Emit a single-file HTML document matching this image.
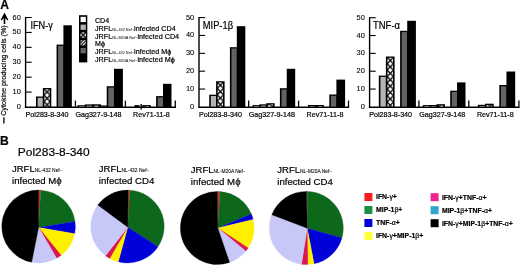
<!DOCTYPE html>
<html lang="en">
<head>
<meta charset="utf-8">
<title>Figure</title>
<style>
html,body{margin:0;padding:0;background:#fff;}
body{width:520px;height:267px;overflow:hidden;}
svg{display:block;}
svg text{font-family:"Liberation Sans",Arial,sans-serif;fill:#000;stroke:#000;stroke-width:0.2px;}
</style>
</head>
<body>
<svg width="520" height="267" viewBox="0 0 520 267">
<defs>
<pattern id="xh" width="6.4" height="6.4" patternUnits="userSpaceOnUse" patternTransform="translate(0.4 1.2)">
<rect width="6.4" height="6.4" fill="#fff"/>
<path d="M0 0L6.4 6.4M6.4 0L0 6.4M-1 5.4L1 7.4M5.4 -1L7.4 1M-1 1L1 -1M5.4 7.4L7.4 5.4" stroke="#000" stroke-width="1.25" fill="none"/>
</pattern>
<pattern id="dg" width="3" height="3" patternUnits="userSpaceOnUse">
<rect width="3" height="3" fill="#fff"/>
<path d="M-1 1L1 -1M0 3L3 0M2 4L4 2" stroke="#000" stroke-width="1.1"/>
</pattern>
</defs>
<rect width="520" height="267" fill="#fff"/>
<filter id="soft" x="0" y="0" width="520" height="267" filterUnits="userSpaceOnUse"><feGaussianBlur stdDeviation="0.38"/></filter>
<g filter="url(#soft)">

<text x="0.2" y="8.5" font-size="12.1" font-weight="bold">A</text>
<text x="0.1" y="144.8" font-size="12.1" font-weight="bold">B</text>
<path d="M4.5 12.6L8.4 19.9L7.4 20.3L5.3 18.3L5.3 23.9L3.7 23.9L3.7 18.3L1.6 20.3L0.6 19.9Z" fill="#000"/>
<text transform="translate(5.5 115.8) rotate(-90)" font-size="7.15">Cytokine producing cells (%)</text>
<line x1="3.9" y1="117.3" x2="3.9" y2="123.6" stroke="#000" stroke-width="1.3"/>
<line x1="25.6" y1="16.95" x2="25.6" y2="107.9" stroke="#000" stroke-width="1.4"/>
<line x1="24.90" y1="107.2" x2="175.95" y2="107.2" stroke="#000" stroke-width="1.4"/>
<text x="20.8" y="109.00" font-size="7.4" text-anchor="end" style="stroke-width:0.1px">0</text>
<line x1="25.6" y1="92.08" x2="31.70" y2="92.08" stroke="#000" stroke-width="1.1"/>
<text x="20.8" y="94.08" font-size="7.4" text-anchor="end" style="stroke-width:0.1px">10</text>
<line x1="25.6" y1="77.17" x2="31.70" y2="77.17" stroke="#000" stroke-width="1.1"/>
<text x="20.8" y="79.17" font-size="7.4" text-anchor="end" style="stroke-width:0.1px">20</text>
<line x1="25.6" y1="62.25" x2="31.70" y2="62.25" stroke="#000" stroke-width="1.1"/>
<text x="20.8" y="64.25" font-size="7.4" text-anchor="end" style="stroke-width:0.1px">30</text>
<line x1="25.6" y1="47.33" x2="31.70" y2="47.33" stroke="#000" stroke-width="1.1"/>
<text x="20.8" y="49.33" font-size="7.4" text-anchor="end" style="stroke-width:0.1px">40</text>
<line x1="25.6" y1="32.42" x2="31.70" y2="32.42" stroke="#000" stroke-width="1.1"/>
<text x="20.8" y="34.42" font-size="7.4" text-anchor="end" style="stroke-width:0.1px">50</text>
<line x1="25.6" y1="17.50" x2="31.70" y2="17.50" stroke="#000" stroke-width="1.1"/>
<text x="20.8" y="19.50" font-size="7.4" text-anchor="end" style="stroke-width:0.1px">60</text>
<line x1="75.40" y1="100.6" x2="75.40" y2="107.2" stroke="#000" stroke-width="1.3"/>
<line x1="125.40" y1="100.6" x2="125.40" y2="107.2" stroke="#000" stroke-width="1.3"/>
<line x1="175.30" y1="100.6" x2="175.30" y2="107.2" stroke="#000" stroke-width="1.3"/>
<text x="30.4" y="29" font-size="10.2" textLength="22.4" lengthAdjust="spacingAndGlyphs">IFN-γ</text>
<rect x="36.00" y="96.50" width="8.45" height="10.70" fill="#000"/>
<rect x="37.60" y="97.80" width="5.25" height="8.80" fill="#b2b2b2"/>
<rect x="42.85" y="88.00" width="8.45" height="19.20" fill="#000"/>
<pattern id="xh436" width="6.4" height="6.4" patternUnits="userSpaceOnUse" patternTransform="translate(43.87 88.80)"><rect width="6.4" height="6.4" fill="#fff"/><path d="M0 0L6.4 6.4M6.4 0L0 6.4" stroke="#000" stroke-width="1.35" fill="none"/></pattern>
<rect x="44.45" y="89.30" width="5.25" height="17.30" fill="url(#xh436)"/>
<rect x="56.55" y="44.60" width="8.45" height="62.60" fill="#000"/>
<rect x="58.15" y="45.90" width="5.25" height="60.70" fill="#646464"/>
<rect x="63.40" y="25.30" width="8.45" height="81.90" fill="#000"/>
<rect x="77.50" y="105.20" width="8.90" height="2.00" fill="#000"/>
<rect x="79.10" y="106.20" width="5.70" height="0.40" fill="#fff"/>
<rect x="84.80" y="104.40" width="8.90" height="2.80" fill="#000"/>
<rect x="86.40" y="105.70" width="5.70" height="0.90" fill="#b2b2b2"/>
<rect x="92.10" y="104.30" width="8.90" height="2.90" fill="#000"/>
<rect x="93.70" y="105.60" width="5.70" height="1.00" fill="url(#xh)"/>
<rect x="99.40" y="105.40" width="8.90" height="1.80" fill="#000"/>
<rect x="101.00" y="106.30" width="5.70" height="0.30" fill="url(#dg)"/>
<rect x="106.70" y="86.20" width="8.90" height="21.00" fill="#000"/>
<rect x="108.30" y="87.50" width="5.70" height="19.10" fill="#646464"/>
<rect x="114.00" y="68.80" width="8.90" height="38.40" fill="#000"/>
<rect x="142.30" y="105.10" width="8.50" height="2.10" fill="#000"/>
<rect x="143.90" y="106.15" width="5.30" height="0.45" fill="url(#xh)"/>
<rect x="156.10" y="96.10" width="8.50" height="11.10" fill="#000"/>
<rect x="157.70" y="97.40" width="5.30" height="9.20" fill="#646464"/>
<rect x="163.00" y="83.80" width="8.50" height="23.40" fill="#000"/>
<text x="25.6" y="117.3" font-size="7.15">Pol283-8-340</text>
<text x="75.4" y="117.3" font-size="7.15">Gag327-9-148</text>
<text x="133.0" y="117.3" font-size="7.15">Rev71-11-8</text>
<rect x="134.5" y="105.1" width="5" height="2.1" fill="#000"/>
<line x1="141.2" y1="104" x2="141.2" y2="109.5" stroke="#000" stroke-width="1.4"/>
<line x1="199.0" y1="17.05" x2="199.0" y2="107.9" stroke="#000" stroke-width="1.4"/>
<line x1="198.30" y1="107.2" x2="349.15" y2="107.2" stroke="#000" stroke-width="1.4"/>
<text x="194.2" y="108.90" font-size="7.4" text-anchor="end" style="stroke-width:0.1px">0</text>
<line x1="199.0" y1="89.04" x2="205.10" y2="89.04" stroke="#000" stroke-width="1.1"/>
<text x="194.2" y="91.04" font-size="7.4" text-anchor="end" style="stroke-width:0.1px">10</text>
<line x1="199.0" y1="71.18" x2="205.10" y2="71.18" stroke="#000" stroke-width="1.1"/>
<text x="194.2" y="73.18" font-size="7.4" text-anchor="end" style="stroke-width:0.1px">20</text>
<line x1="199.0" y1="53.32" x2="205.10" y2="53.32" stroke="#000" stroke-width="1.1"/>
<text x="194.2" y="55.32" font-size="7.4" text-anchor="end" style="stroke-width:0.1px">30</text>
<line x1="199.0" y1="35.46" x2="205.10" y2="35.46" stroke="#000" stroke-width="1.1"/>
<text x="194.2" y="37.46" font-size="7.4" text-anchor="end" style="stroke-width:0.1px">40</text>
<line x1="199.0" y1="17.60" x2="205.10" y2="17.60" stroke="#000" stroke-width="1.1"/>
<text x="194.2" y="19.60" font-size="7.4" text-anchor="end" style="stroke-width:0.1px">50</text>
<line x1="248.65" y1="100.6" x2="248.65" y2="107.2" stroke="#000" stroke-width="1.3"/>
<line x1="298.60" y1="100.6" x2="298.60" y2="107.2" stroke="#000" stroke-width="1.3"/>
<line x1="348.50" y1="100.6" x2="348.50" y2="107.2" stroke="#000" stroke-width="1.3"/>
<text x="202.8" y="29" font-size="10.2" textLength="30.2" lengthAdjust="spacingAndGlyphs">MIP-1β</text>
<rect x="209.20" y="94.70" width="8.50" height="12.50" fill="#000"/>
<rect x="210.80" y="96.00" width="5.30" height="10.60" fill="#b2b2b2"/>
<rect x="216.10" y="81.20" width="8.50" height="26.00" fill="#000"/>
<pattern id="xh2169" width="6.4" height="6.4" patternUnits="userSpaceOnUse" patternTransform="translate(217.15 82.00)"><rect width="6.4" height="6.4" fill="#fff"/><path d="M0 0L6.4 6.4M6.4 0L0 6.4" stroke="#000" stroke-width="1.35" fill="none"/></pattern>
<rect x="217.70" y="82.50" width="5.30" height="24.10" fill="url(#xh2169)"/>
<rect x="229.90" y="47.20" width="8.50" height="60.00" fill="#000"/>
<rect x="231.50" y="48.50" width="5.30" height="58.10" fill="#646464"/>
<rect x="236.80" y="26.20" width="8.50" height="81.00" fill="#000"/>
<rect x="252.50" y="105.10" width="8.45" height="2.10" fill="#000"/>
<rect x="254.10" y="106.15" width="5.25" height="0.45" fill="#fff"/>
<rect x="259.35" y="104.30" width="8.45" height="2.90" fill="#000"/>
<rect x="260.95" y="105.60" width="5.25" height="1.00" fill="#b2b2b2"/>
<rect x="266.20" y="103.20" width="8.45" height="4.00" fill="#000"/>
<rect x="267.80" y="104.50" width="5.25" height="2.10" fill="url(#xh)"/>
<rect x="279.90" y="88.20" width="8.45" height="19.00" fill="#000"/>
<rect x="281.50" y="89.50" width="5.25" height="17.10" fill="#646464"/>
<rect x="286.75" y="68.80" width="8.45" height="38.40" fill="#000"/>
<rect x="308.00" y="105.00" width="8.70" height="2.20" fill="#000"/>
<rect x="309.60" y="106.10" width="5.50" height="0.50" fill="#b2b2b2"/>
<rect x="315.10" y="105.00" width="8.70" height="2.20" fill="#000"/>
<rect x="316.70" y="106.10" width="5.50" height="0.50" fill="url(#xh)"/>
<rect x="329.30" y="94.50" width="8.70" height="12.70" fill="#000"/>
<rect x="330.90" y="95.80" width="5.50" height="10.80" fill="#646464"/>
<rect x="336.40" y="79.60" width="8.70" height="27.60" fill="#000"/>
<text x="199.0" y="117.3" font-size="7.15">Pol283-8-340</text>
<text x="248.8" y="117.3" font-size="7.15">Gag327-9-148</text>
<text x="306.6" y="117.3" font-size="7.15">Rev71-11-8</text>
<line x1="369.6" y1="17.15" x2="369.6" y2="107.9" stroke="#000" stroke-width="1.4"/>
<line x1="368.90" y1="107.2" x2="519.55" y2="107.2" stroke="#000" stroke-width="1.4"/>
<text x="364.8" y="108.90" font-size="7.4" text-anchor="end" style="stroke-width:0.1px">0</text>
<line x1="369.6" y1="89.06" x2="375.70" y2="89.06" stroke="#000" stroke-width="1.1"/>
<text x="364.8" y="91.06" font-size="7.4" text-anchor="end" style="stroke-width:0.1px">10</text>
<line x1="369.6" y1="71.22" x2="375.70" y2="71.22" stroke="#000" stroke-width="1.1"/>
<text x="364.8" y="73.22" font-size="7.4" text-anchor="end" style="stroke-width:0.1px">20</text>
<line x1="369.6" y1="53.38" x2="375.70" y2="53.38" stroke="#000" stroke-width="1.1"/>
<text x="364.8" y="55.38" font-size="7.4" text-anchor="end" style="stroke-width:0.1px">30</text>
<line x1="369.6" y1="35.54" x2="375.70" y2="35.54" stroke="#000" stroke-width="1.1"/>
<text x="364.8" y="37.54" font-size="7.4" text-anchor="end" style="stroke-width:0.1px">40</text>
<line x1="369.6" y1="17.70" x2="375.70" y2="17.70" stroke="#000" stroke-width="1.1"/>
<text x="364.8" y="19.70" font-size="7.4" text-anchor="end" style="stroke-width:0.1px">50</text>
<line x1="418.90" y1="100.6" x2="418.90" y2="107.2" stroke="#000" stroke-width="1.3"/>
<line x1="468.80" y1="100.6" x2="468.80" y2="107.2" stroke="#000" stroke-width="1.3"/>
<line x1="518.90" y1="100.6" x2="518.90" y2="107.2" stroke="#000" stroke-width="1.3"/>
<text x="373" y="29" font-size="10.2" textLength="27" lengthAdjust="spacingAndGlyphs">TNF-α</text>
<rect x="378.80" y="75.60" width="8.70" height="31.60" fill="#000"/>
<rect x="380.40" y="76.90" width="5.50" height="29.70" fill="#b2b2b2"/>
<rect x="385.90" y="56.50" width="8.70" height="50.70" fill="#000"/>
<pattern id="xh3867" width="6.4" height="6.4" patternUnits="userSpaceOnUse" patternTransform="translate(387.05 57.30)"><rect width="6.4" height="6.4" fill="#fff"/><path d="M0 0L6.4 6.4M6.4 0L0 6.4" stroke="#000" stroke-width="1.35" fill="none"/></pattern>
<rect x="387.50" y="57.80" width="5.50" height="48.80" fill="url(#xh3867)"/>
<rect x="400.10" y="30.80" width="8.70" height="76.40" fill="#000"/>
<rect x="401.70" y="32.10" width="5.50" height="74.50" fill="#646464"/>
<rect x="407.20" y="20.80" width="8.70" height="86.40" fill="#000"/>
<rect x="422.80" y="105.10" width="8.45" height="2.10" fill="#000"/>
<rect x="424.40" y="106.15" width="5.25" height="0.45" fill="#fff"/>
<rect x="429.65" y="105.00" width="8.45" height="2.20" fill="#000"/>
<rect x="431.25" y="106.10" width="5.25" height="0.50" fill="#b2b2b2"/>
<rect x="436.50" y="104.20" width="8.45" height="3.00" fill="#000"/>
<rect x="438.10" y="105.50" width="5.25" height="1.10" fill="url(#xh)"/>
<rect x="450.20" y="90.70" width="8.45" height="16.50" fill="#000"/>
<rect x="451.80" y="92.00" width="5.25" height="14.60" fill="#646464"/>
<rect x="457.05" y="82.40" width="8.45" height="24.80" fill="#000"/>
<rect x="477.85" y="104.80" width="8.75" height="2.40" fill="#000"/>
<rect x="479.45" y="106.00" width="5.55" height="0.60" fill="#b2b2b2"/>
<rect x="485.00" y="103.70" width="8.75" height="3.50" fill="#000"/>
<rect x="486.60" y="105.00" width="5.55" height="1.60" fill="url(#xh)"/>
<rect x="499.30" y="85.00" width="8.75" height="22.20" fill="#000"/>
<rect x="500.90" y="86.30" width="5.55" height="20.30" fill="#646464"/>
<rect x="506.45" y="71.50" width="8.75" height="35.70" fill="#000"/>
<text x="369.2" y="117.3" font-size="7.15">Pol283-8-340</text>
<text x="419.2" y="117.3" font-size="7.15">Gag327-9-148</text>
<text x="476.9" y="117.3" font-size="7.15">Rev71-11-8</text>
<rect x="79" y="15.2" width="8.3" height="47.2" fill="#000"/>
<defs>
<pattern id="xh2" width="5.3" height="5.3" patternUnits="userSpaceOnUse" patternTransform="translate(80.55 32.4)">
<rect width="5.3" height="5.3" fill="#fff"/><path d="M0 0L5.3 5.3M5.3 0L0 5.3" stroke="#000" stroke-width="1.3"/></pattern>
<pattern id="dg2" width="3.2" height="3.2" patternUnits="userSpaceOnUse" patternTransform="translate(80.0 40.2)">
<rect width="3.2" height="3.2" fill="#fff"/><path d="M-1 1L1 -1M0 3.2L3.2 0M2.2 4.2L4.2 2.2" stroke="#000" stroke-width="1.15"/></pattern>
</defs>
<rect x="80.55" y="16.80" width="5.3" height="5.3" fill="#fff"/>
<rect x="80.55" y="24.60" width="5.3" height="5.3" fill="#b2b2b2"/>
<rect x="80.55" y="32.40" width="5.3" height="5.3" fill="url(#xh2)"/>
<rect x="80.55" y="40.20" width="5.3" height="5.3" fill="url(#dg2)"/>
<rect x="80.55" y="48.00" width="5.3" height="5.3" fill="#646464"/>
<rect x="80.55" y="55.80" width="5.3" height="5.3" fill="#000"/>
<text x="95" y="22.80" font-size="7.1">CD4</text>
<text x="95" y="30.65" font-size="7.2">JRFL<tspan font-size="3.85" style="stroke-width:0">NL-432 Nef−</tspan>infected CD4</text>
<text x="95" y="38.50" font-size="7.2">JRFL<tspan font-size="3.85" style="stroke-width:0">NL-M20A Nef−</tspan>infected CD4</text>
<text x="95" y="46.35" font-size="7.1">Mϕ</text>
<text x="95" y="54.20" font-size="7.2">JRFL<tspan font-size="3.85" style="stroke-width:0">NL-432 Nef−</tspan>infected Mϕ</text>
<text x="95" y="62.05" font-size="7.2">JRFL<tspan font-size="3.85" style="stroke-width:0">NL-M20A Nef−</tspan>infected Mϕ</text>
<text x="17.8" y="155.7" font-size="11.7" textLength="71.9" lengthAdjust="spacingAndGlyphs">Pol283-8-340</text>
<text x="12" y="171.6" font-size="9.5">JRFL<tspan font-size="4.9" style="stroke-width:0.08px">NL-432 Nef−</tspan></text>
<text x="12" y="184.0" font-size="9.62">infected Mϕ</text>
<text x="98.8" y="171.6" font-size="9.5">JRFL<tspan font-size="4.9" style="stroke-width:0.08px">NL-432 Nef−</tspan></text>
<text x="98.8" y="184.0" font-size="9.62">infected CD4</text>
<text x="190.8" y="172.6" font-size="9.5">JRFL<tspan font-size="4.9" style="stroke-width:0.08px">NL-M20A Nef−</tspan></text>
<text x="190.8" y="185.0" font-size="9.62">infected Mϕ</text>
<text x="277.3" y="172.6" font-size="9.5">JRFL<tspan font-size="4.9" style="stroke-width:0.08px">NL-M20A Nef−</tspan></text>
<text x="277.3" y="185.0" font-size="9.62">infected CD4</text>
<path d="M38.6 227.4L38.60 190.10A36.8 36.4 0 0 1 40.78 190.16Z" fill="#d42a24" stroke="#d42a24" stroke-width="0.3"/>
<path d="M38.6 227.4L40.78 190.16A36.8 36.4 0 0 1 75.04 221.43Z" fill="#0e681e" stroke="#0e681e" stroke-width="0.3"/>
<path d="M38.6 227.4L75.04 221.43A36.8 36.4 0 0 1 74.67 233.69Z" fill="#0000d8" stroke="#0000d8" stroke-width="0.3"/>
<path d="M38.6 227.4L74.67 233.69A36.8 36.4 0 0 1 61.15 255.26Z" fill="#fff000" stroke="#fff000" stroke-width="0.3"/>
<path d="M38.6 227.4L61.15 255.26A36.8 36.4 0 0 1 56.58 258.26Z" fill="#dc1450" stroke="#dc1450" stroke-width="0.3"/>
<path d="M38.6 227.4L56.58 258.26A36.8 36.4 0 0 1 31.70 262.26Z" fill="#c8c8f8" stroke="#c8c8f8" stroke-width="0.3"/>
<path d="M38.6 227.4L31.70 262.26A36.8 36.4 0 0 1 38.60 190.10Z" fill="#000" stroke="#000" stroke-width="0.3"/>
<path d="M127.8 227.2L128.09 190.11A36.75 36.4 0 0 1 129.76 190.17Z" fill="#d42a24" stroke="#d42a24" stroke-width="0.3"/>
<path d="M127.8 227.2L129.76 190.17A36.75 36.4 0 0 1 158.06 246.64Z" fill="#0e681e" stroke="#0e681e" stroke-width="0.3"/>
<path d="M127.8 227.2L158.06 246.64A36.75 36.4 0 0 1 118.25 261.74Z" fill="#0000d8" stroke="#0000d8" stroke-width="0.3"/>
<path d="M127.8 227.2L118.25 261.74A36.75 36.4 0 0 1 109.75 258.40Z" fill="#fff000" stroke="#fff000" stroke-width="0.3"/>
<path d="M127.8 227.2L109.75 258.40A36.75 36.4 0 0 1 105.49 255.68Z" fill="#dc1450" stroke="#dc1450" stroke-width="0.3"/>
<path d="M127.8 227.2L105.49 255.68A36.75 36.4 0 0 1 97.72 205.10Z" fill="#c8c8f8" stroke="#c8c8f8" stroke-width="0.3"/>
<path d="M127.8 227.2L97.72 205.10A36.75 36.4 0 0 1 128.09 190.11Z" fill="#000" stroke="#000" stroke-width="0.3"/>
<path d="M217.8 228.1L217.38 191.40A36.9 36.6 0 0 1 219.95 191.50Z" fill="#d42a24" stroke="#d42a24" stroke-width="0.3"/>
<path d="M217.8 228.1L219.95 191.50A36.9 36.6 0 0 1 251.37 214.05Z" fill="#0e681e" stroke="#0e681e" stroke-width="0.3"/>
<path d="M217.8 228.1L251.37 214.05A36.9 36.6 0 0 1 253.13 219.46Z" fill="#0000d8" stroke="#0000d8" stroke-width="0.3"/>
<path d="M217.8 228.1L253.13 219.46A36.9 36.6 0 0 1 248.16 247.99Z" fill="#fff000" stroke="#fff000" stroke-width="0.3"/>
<path d="M217.8 228.1L248.16 247.99A36.9 36.6 0 0 1 245.85 251.13Z" fill="#dc1450" stroke="#dc1450" stroke-width="0.3"/>
<path d="M217.8 228.1L245.85 251.13A36.9 36.6 0 0 1 229.63 262.48Z" fill="#c8c8f8" stroke="#c8c8f8" stroke-width="0.3"/>
<path d="M217.8 228.1L229.63 262.48A36.9 36.6 0 1 1 217.38 191.40Z" fill="#000" stroke="#000" stroke-width="0.3"/>
<path d="M307.2 228.3L306.43 191.40A37.0 36.6 0 0 1 307.27 191.41Z" fill="#8a2a10" stroke="#8a2a10" stroke-width="0.3"/>
<path d="M307.2 228.3L307.27 191.41A37.0 36.6 0 0 1 341.92 237.90Z" fill="#0e681e" stroke="#0e681e" stroke-width="0.3"/>
<path d="M307.2 228.3L341.92 237.90A37.0 36.6 0 0 1 314.06 263.79Z" fill="#0000d8" stroke="#0000d8" stroke-width="0.3"/>
<path d="M307.2 228.3L314.06 263.79A37.0 36.6 0 0 1 307.85 264.57Z" fill="#fff000" stroke="#fff000" stroke-width="0.3"/>
<path d="M307.2 228.3L307.85 264.57A37.0 36.6 0 0 1 301.53 264.30Z" fill="#dc1450" stroke="#dc1450" stroke-width="0.3"/>
<path d="M307.2 228.3L301.53 264.30A37.0 36.6 0 0 1 271.80 214.76Z" fill="#c8c8f8" stroke="#c8c8f8" stroke-width="0.3"/>
<path d="M307.2 228.3L271.80 214.76A37.0 36.6 0 0 1 306.43 191.40Z" fill="#000" stroke="#000" stroke-width="0.3"/>
<rect x="364.4" y="193" width="8" height="8" fill="#f81c1c"/>
<text x="376" y="199.1" font-size="6.9" font-weight="bold">IFN-<tspan font-weight="normal">γ</tspan>+</text>
<rect x="364.4" y="206" width="8" height="8" fill="#1f8f45"/>
<text x="376" y="212.1" font-size="6.9" font-weight="bold">MIP-1<tspan font-weight="normal">β</tspan>+</text>
<rect x="364.4" y="219" width="8" height="8" fill="#0000d4"/>
<text x="376" y="225.1" font-size="6.9" font-weight="bold">TNF-<tspan font-weight="normal">α</tspan>+</text>
<rect x="364.4" y="232" width="8" height="8" fill="#ffff3c"/>
<text x="376" y="238.1" font-size="6.9" font-weight="bold">IFN-<tspan font-weight="normal">γ</tspan>+MIP-1<tspan font-weight="normal">β</tspan>+</text>
<rect x="430.6" y="193.2" width="8" height="8" fill="#f0208c"/>
<text x="441.9" y="199.9" font-size="6.9" font-weight="bold">IFN-<tspan font-weight="normal">γ</tspan>+TNF-<tspan font-weight="normal">α</tspan>+</text>
<rect x="430.6" y="206.2" width="8" height="8" fill="#30a4d0"/>
<text x="441.9" y="212.9" font-size="6.9" font-weight="bold">MIP-1<tspan font-weight="normal">β</tspan>+TNF-<tspan font-weight="normal">α</tspan>+</text>
<rect x="430.6" y="219.2" width="8" height="8" fill="#000"/>
<text x="441.9" y="225.9" font-size="6.9" font-weight="bold">IFN-<tspan font-weight="normal">γ</tspan>+MIP-1<tspan font-weight="normal">β</tspan>+TNF-<tspan font-weight="normal">α</tspan>+</text>
</g>
</svg>
</body>
</html>
